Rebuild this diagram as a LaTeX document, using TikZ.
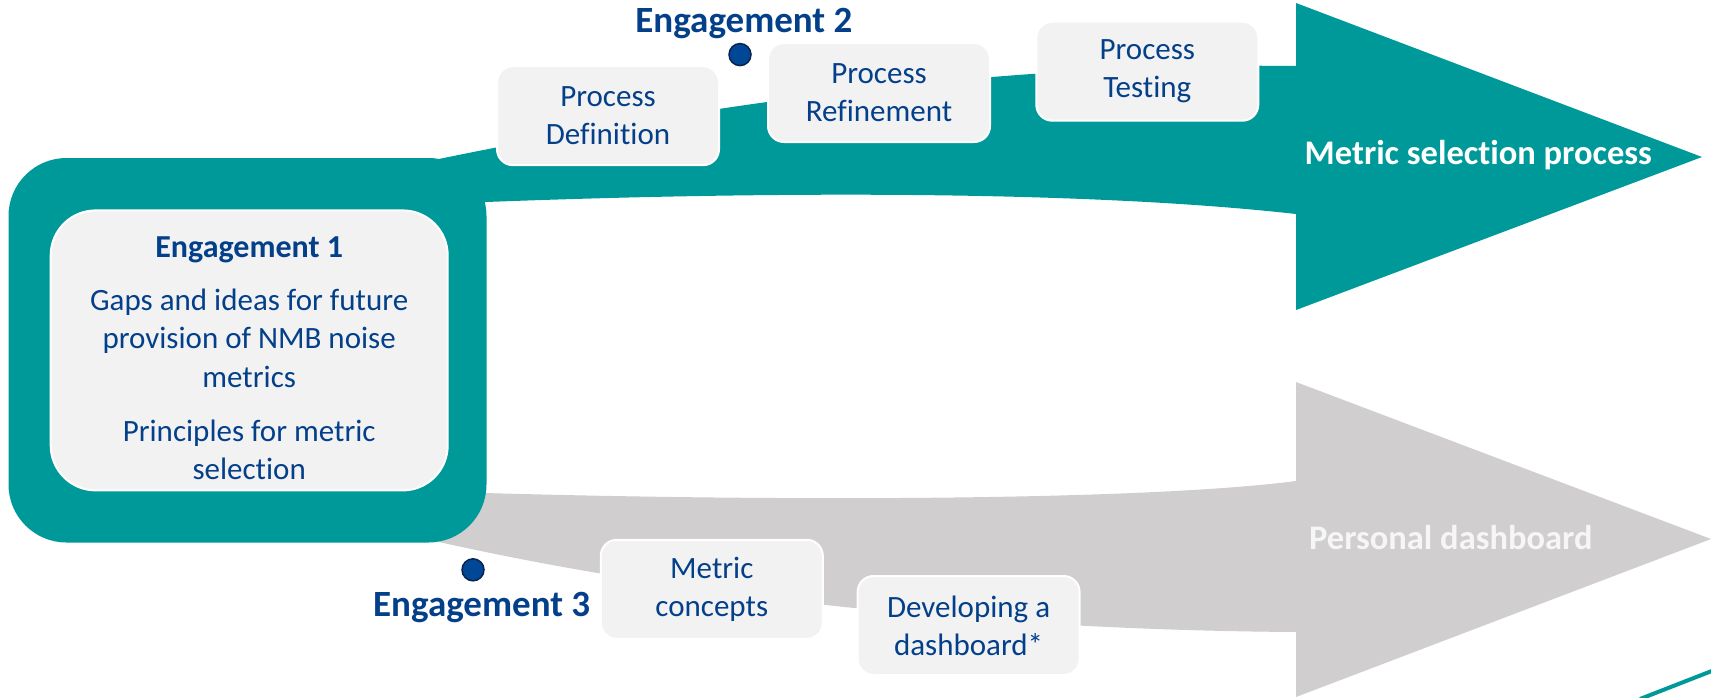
\documentclass[tikz,border=0pt]{standalone}
\usepackage{fontspec}
\setmainfont{Carlito}[Ligatures={NoCommon,NoRequired,NoContextual}]
\definecolor{tealA}{RGB}{0,153,153}
\definecolor{grayA}{RGB}{208,206,206}
\definecolor{navy}{RGB}{4,64,138}
\definecolor{boxfill}{RGB}{242,242,242}
\definecolor{dotfill}{RGB}{0,72,150}
\definecolor{dotline}{RGB}{10,35,80}
\definecolor{pdtext}{RGB}{246,246,246}
\begin{document}
\begin{tikzpicture}[x=1pt,y=-1pt,
  stepbox/.style={draw=white, line width=2pt, fill=boxfill, rounded corners=16pt,
    minimum width=222pt, minimum height=99pt, inner sep=0pt, align=center,
    text=navy, font=\fontsize{31}{38}\selectfont},
  bigbox/.style={draw=white, line width=2pt, fill=boxfill, rounded corners=45pt,
    minimum width=397pt, minimum height=280pt, inner sep=0pt},
  engtitle/.style={text=navy, font=\fontsize{37}{42}\selectfont\bfseries, inner sep=0pt, anchor=base},
  arrowlabel/.style={font=\fontsize{34.5}{40}\selectfont\bfseries, inner sep=0pt, anchor=base},
  dot/.style={circle, fill=dotfill, draw=dotline, line width=1.5pt, minimum size=22pt, inner sep=0pt}
]
\useasboundingbox (0,0) rectangle (1711,697);

% gray arrow (Personal dashboard)
\fill[grayA] (440,493) -- (485,493) .. controls (800,502) and (1150,500) .. (1296,481)
  -- (1296,382) -- (1711,539) -- (1296,697) -- (1296,632)
  .. controls (1000,630) and (700,600) .. (439,542) -- cycle;

% teal arrow (Metric selection process)
\fill[tealA] (434,160) .. controls (700,105) and (1000,62) .. (1296,66)
  -- (1296,3) -- (1702,157) -- (1296,310) -- (1296,214)
  .. controls (1100,192) and (800,190) .. (486,202) -- (440,202) -- cycle;

% teal frame of engagement 1
\fill[tealA, rounded corners=58pt] (8.5,158) rectangle (486.5,542.5);

% engagement 1 box
\node[bigbox] (e1box) at (249.2,350.4) {};
\node[text=navy, align=center, inner sep=0pt, font=\fontsize{31}{38.5}\selectfont] (e1text) at (249.2,358.2)
  {{\fontsize{32}{38.5}\selectfont\bfseries Engagement 1}\\[14.5pt]
   Gaps and ideas for future\\ provision of NMB noise\\ metrics\\[15.5pt]
   Principles for metric\\ selec\kern0pt tion};

% step boxes
\node[stepbox] (pdef) at (608,115.7) {Process\\Defini\kern0pt tion};
\node[stepbox] (pref) at (879,92.5) {Process\\Refinement};
\node[stepbox] (ptest) at (1147.3,71.2) {Process\\Test\kern0pt ing};
\node[stepbox] (mconc) at (711.8,589.3) {Metric\\concepts};
\node[stepbox] (ddash) at (968.6,625.5) {Developing a\\dashboard*};

% dots and engagement titles
\node[dot] (d2) at (740,54.6) {};
\node[dot] (d3) at (473,569.8) {};
\node[engtitle] (e2) at (743.9,32.3) {Engagement 2};
\node[engtitle] (e3) at (481.7,616.3) {Engagement 3};

% arrow labels
\node[arrowlabel, text=white] (msp) at (1478.3,164.3) {Metric selec\kern0pt tion process};
\node[arrowlabel, text=pdtext] (pd) at (1450.8,549.3) {Personal dashboard};

% teal stroke at bottom right
\coordinate (tl1) at (1640,699);
\coordinate (tl2) at (1713,670.5);
\draw[tealA, line width=4pt] (tl1) -- (tl2);
\end{tikzpicture}
\end{document}
